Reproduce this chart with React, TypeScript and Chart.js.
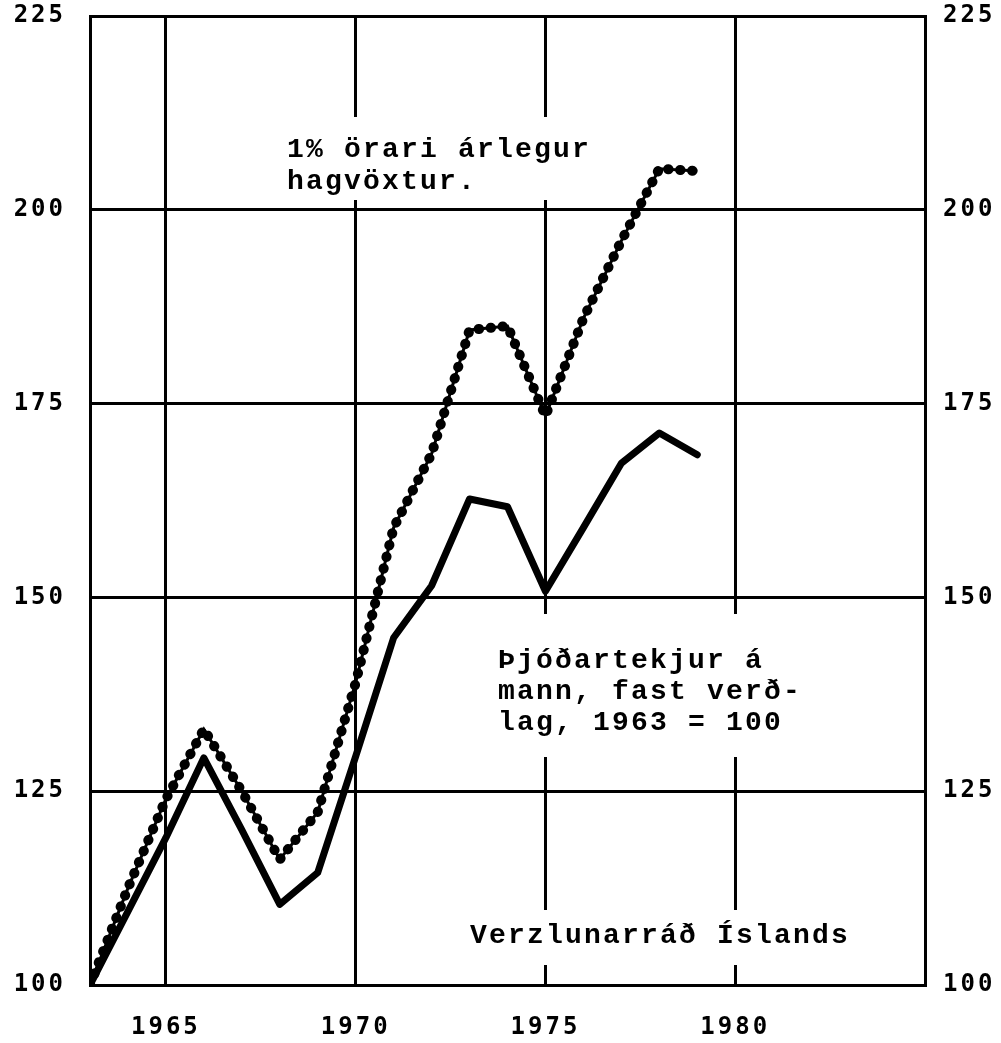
import React, { useEffect, useRef } from "react";
import { Chart, registerables } from "chart.js";

Chart.register(...registerables);

const years = [1963, 1964, 1965, 1966, 1967, 1968, 1969, 1970, 1971, 1972, 1973, 1974, 1975, 1976, 1977, 1978, 1979];
const incomeIndex = [100, 109.5, 119, 129.3, 120, 110.4, 114.5, 129.5, 144.8, 151.5, 162.7, 161.7, 150.8, 159, 167.3, 171.2, 168.4];
const fasterGrowth = [100, 112.5, 124, 133, 125, 116.2, 122.3, 139, 159, 168.5, 184.5, 185, 173.4, 186, 196, 205.3, 205];
const yTicks = [100, 125, 150, 175, 200, 225];
const xTicks = [1965, 1970, 1975, 1980];

const noteFaster = ["1% örari árlegur", "hagvöxtur."];
const noteIncome = ["Þjóðartekjur á", "mann, fast verð-", "lag, 1963 = 100"];
const noteSource = ["Verzlunarráð Íslands"];

const TICK_FONT = { family: '"DejaVu Sans Mono", monospace', size: 24, weight: "bold" as const };
const NOTE_FONT = 'bold 28px "Liberation Mono", monospace';

const notes = [
  { lines: noteFaster, x: 287, y: 157, lh: 32, box: [280, 117, 320, 83] },
  { lines: noteIncome, x: 498, y: 668, lh: 31, box: [488, 614, 330, 143] },
  { lines: noteSource, x: 470, y: 943, lh: 31, box: [460, 910, 400, 55] },
];

const notesPlugin = {
  id: "notes",
  beforeDraw(chart: any) {
    chart.ctx.letterSpacing = "3px";
  },
  beforeDatasetsDraw(chart: any) {
    const ctx = chart.ctx;
    ctx.save();
    for (const n of notes) {
      ctx.fillStyle = "#ffffff";
      ctx.fillRect(n.box[0], n.box[1], n.box[2], n.box[3]);
    }
    ctx.fillStyle = "#000000";
    ctx.font = NOTE_FONT;
    ctx.letterSpacing = "2.2px";
    ctx.textAlign = "left";
    ctx.textBaseline = "alphabetic";
    for (const n of notes) {
      n.lines.forEach((t, i) => ctx.fillText(t, n.x, n.y + i * n.lh));
    }
    ctx.restore();
  },
};

const noPadY = (w: number) => (s: any) => {
  s.width = w;
  s.paddingTop = 0;
  s.paddingBottom = 0;
};

export default function App() {
  const ref = useRef<HTMLCanvasElement>(null);
  useEffect(() => {
    if (!ref.current) return;
    const pts = (vals: number[]) => years.map((y, i) => ({ x: y, y: vals[i] }));
    const chart = new Chart(ref.current, {
      type: "line",
      data: {
        datasets: [
          {
            label: "Þjóðartekjur á mann",
            data: pts(incomeIndex),
            borderColor: "#000",
            borderWidth: 7,
            pointRadius: 0,
            borderJoinStyle: "round",
            borderCapStyle: "round",
            tension: 0,
          },
          {
            label: "1% örari árlegur hagvöxtur (dots)",
            data: pts(fasterGrowth),
            borderColor: "#000",
            borderWidth: 10,
            borderDash: [0.5, 11.5],
            borderCapStyle: "round",
            pointRadius: 0,
            tension: 0,
          },
          {
            label: "1% örari árlegur hagvöxtur",
            data: pts(fasterGrowth),
            borderColor: "#000",
            borderWidth: 3,
            pointRadius: 0,
            tension: 0,
          },
        ],
      },
      options: {
        responsive: false,
        animation: false,
        devicePixelRatio: 1,
        layout: { padding: { top: 16, left: 0, right: 0, bottom: 0 } },
        plugins: { legend: { display: false }, tooltip: { enabled: false } },
        scales: {
          x: {
            type: "linear",
            min: 1963,
            max: 1985,
            afterBuildTicks: (s: any) => {
              s.ticks = xTicks.map((v) => ({ value: v }));
            },
            afterFit: (s: any) => {
              s.height = 58;
              s.paddingLeft = 0;
              s.paddingRight = 0;
            },
            grid: { color: "#000", lineWidth: 3, drawTicks: false },
            border: { color: "#000", width: 3 },
            ticks: {
              color: "#000",
              font: TICK_FONT,
              padding: 28,
              maxRotation: 0,
              callback: (v: any) => String(v),
            },
          },
          y: {
            position: "left",
            min: 100,
            max: 225,
            afterBuildTicks: (s: any) => {
              s.ticks = yTicks.map((v) => ({ value: v }));
            },
            afterFit: noPadY(90),
            grid: { color: "#000", lineWidth: 3, drawTicks: false },
            border: { color: "#000", width: 3 },
            ticks: { color: "#000", font: TICK_FONT, padding: 24, callback: (v: any) => String(v) },
          },
          y2: {
            position: "right",
            min: 100,
            max: 225,
            afterBuildTicks: (s: any) => {
              s.ticks = yTicks.map((v) => ({ value: v }));
            },
            afterFit: noPadY(76),
            grid: { display: false, drawTicks: false },
            border: { color: "#000", width: 3 },
            ticks: { color: "#000", font: TICK_FONT, padding: 18, callback: (v: any) => String(v) },
          },
        },
      },
      plugins: [notesPlugin],
    });
    return () => chart.destroy();
  }, []);
  return (
    <div style={{ position: "absolute", left: 0, top: 0, width: 1001, height: 1043, background: "#fff" }}>
      <canvas ref={ref} width={1001} height={1043} style={{ display: "block" }} />
    </div>
  );
}
